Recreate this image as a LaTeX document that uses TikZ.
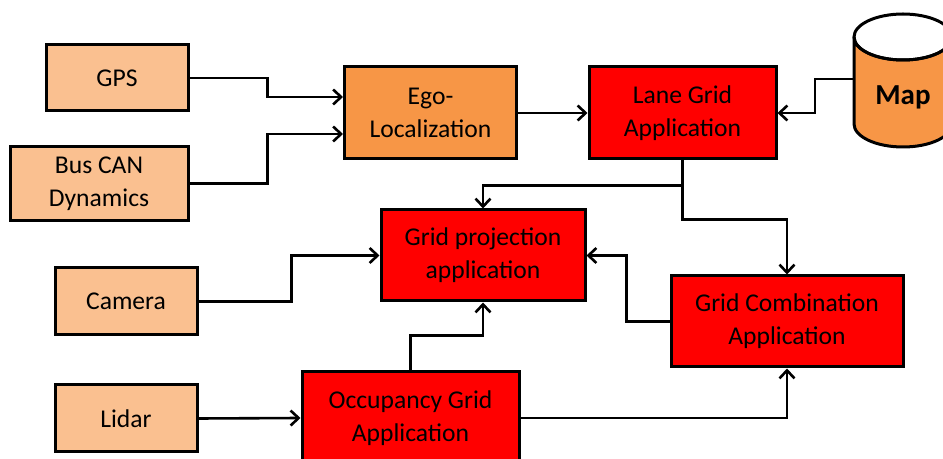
\documentclass[tikz,border=0pt]{standalone}
\usepackage{fontspec}
\setmainfont{Carlito}
\usetikzlibrary{arrows.meta,calc}
\definecolor{peach}{HTML}{FAC090}
\definecolor{egoorange}{HTML}{F79646}
\definecolor{appred}{HTML}{FF0000}
\tikzset{
  blk/.style={draw=black,line width=1.5pt,align=center,inner sep=0pt,font=\fontsize{12.8}{16.5}\selectfont},
  inbox/.style={blk,fill=peach},
  egobox/.style={blk,fill=egoorange},
  appbox/.style={blk,fill=appred},
  conn/.style={-{Straight Barb[length=4pt,width=7.5pt,line width=1.3pt]},line width=1.3pt}
}
\begin{document}
\begin{tikzpicture}[x=0.5pt,y=-0.5pt]
  \clip (0,0) rectangle (943,459);
  \node[inbox,minimum width=71pt,minimum height=33pt] (gps) at (117,78) {GPS};
  \node[inbox,minimum width=89pt,minimum height=37pt] (bus) at (99,183.5) {Bus CAN\\Dynamics};
  \node[inbox,minimum width=71pt,minimum height=33.5pt] (cam) at (126,301.5) {Camera};
  \node[inbox,minimum width=71pt,minimum height=33.5pt] (lidar) at (126,418.5) {Lidar};
  \node[egobox,minimum width=86pt,minimum height=46pt] (ego) at (430.5,113) {Ego-\\Localization};
  \node[appbox,minimum width=93.5pt,minimum height=46pt] (lane) at (682.5,113) {Lane Grid\\Application};
  \node[appbox,minimum width=102pt,minimum height=45.5pt] (gproj) at (483,255.5) {Grid projection\\application};
  \node[appbox,minimum width=116pt,minimum height=45.5pt] (gcomb) at (787,321.5) {Grid Combination\\Application};
  \node[appbox,minimum width=108.5pt,minimum height=46pt] (occ) at (410.5,418) {Occupancy Grid\\Application};
  \filldraw[fill=egoorange,line width=1.5pt] (854,37) -- (854,124) arc[start angle=180,end angle=0,x radius=49,y radius=23] -- (952,37) arc[start angle=0,end angle=180,x radius=49,y radius=23];
  \draw[line width=1.5pt] (903,37) ellipse[x radius=49,y radius=23];
  \node[font=\fontsize{14.5}{15}\selectfont\bfseries] (map) at (903,97) {Map};
  \coordinate (mapl) at (854,79);
  \draw[conn] (gps.east) -- ++(78,0) |- ($(ego.west)+(0,-16)$);
  \draw[conn] (bus.east) -- ++(78,0) |- ($(ego.west)+(0,21)$);
  \draw[conn] (ego) -- (lane);
  \draw[conn] (mapl) -- ++(-39,0) |- (lane.east);
  \draw[conn] (lane.south) -- ++(0,25) -| (gproj.north);
  \draw[conn] (lane.south) -- ++(0,59) -| (gcomb.north);
  \draw[conn] (cam.east) -- ++(93,0) |- (gproj.west);
  \draw[conn] (gcomb.west) -- ++(-43,0) |- (gproj.east);
  \draw[conn] (lidar.east) -- (occ.west);
  \draw[conn] (occ.north) -- ++(0,-35) -| (gproj.south);
  \draw[conn] (occ.east) -| (gcomb.south);
\end{tikzpicture}
\end{document}
